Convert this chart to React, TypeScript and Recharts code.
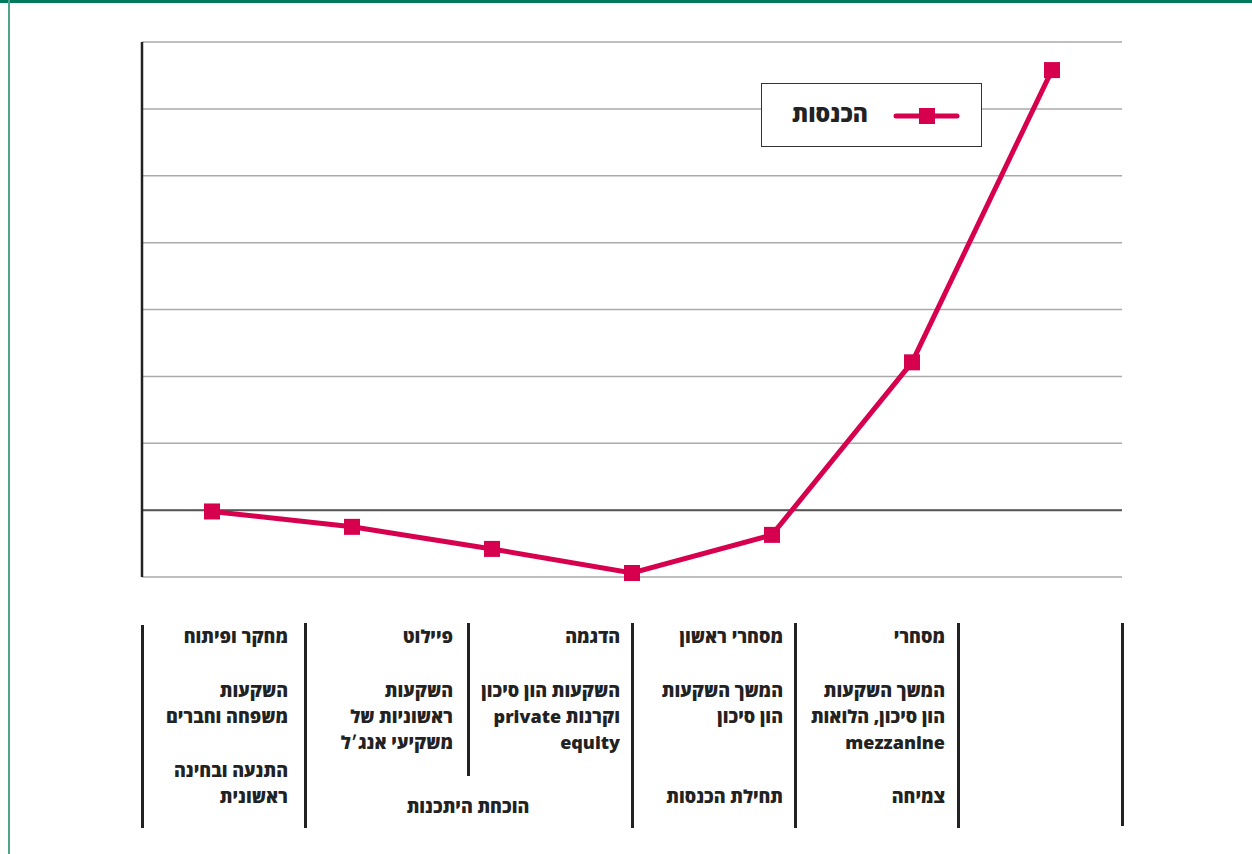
import React from "react";
import { LineChart, Line, XAxis, YAxis, CartesianGrid, ReferenceLine } from "recharts";

// שלבי חיי המיזם
const stages = ["s1", "s2", "s3", "s4", "s5", "s6", "s7"];
const revenues = [-0.02, -0.25, -0.58, -0.94, -0.37, 2.21, 6.58];
const yTicks = [-1, 0, 1, 2, 3, 4, 5, 6, 7];

const stageTitles = ["מחקר ופיתוח", "פיילוט", "הדגמה", "מסחרי ראשון", "מסחרי"];
const investments = [
    ["השקעות", "משפחה וחברים"],
    ["השקעות", "ראשוניות של", "משקיעי אנג׳ל"],
    ["השקעות הון סיכון", "וקרנות private", "equity"],
    ["המשך השקעות", "הון סיכון"],
    ["המשך השקעות", "הון סיכון, הלואות", "mezzanine"],
];
const phases = [["התנעה ובחינה", "ראשונית"], [], [], ["תחילת הכנסות"], ["צמיחה"]];
const sharedPhase = "הוכחת היתכנות";
const seriesName = "הכנסות";

const data = stages.map((s, i) => ({ stage: s, value: revenues[i] }));

const RED = "#d6004f";
const FONT = "'Open Sans', 'Liberation Sans', Arial, sans-serif";

function SquareDot(props: any) {
    const { cx, cy, index } = props;
    return <rect key={`dot-${index}`} x={cx - 8} y={cy - 8} width={16} height={16} fill={RED} />;
}

function LegendBox() {
    return (
        <div style={{
            position: "absolute", left: 761, top: 83, width: 221, height: 64, border: "1.5px solid #333",
            background: "#fff", boxSizing: "border-box", fontFamily: FONT,
        }}>
            <svg width={70} height={20} style={{ position: "absolute", left: 130, top: 22 }}>
                <line x1={4} y1={10} x2={65} y2={10} stroke={RED} strokeWidth={5} strokeLinecap="round" />
                <rect x={27} y={2} width={16} height={16} fill={RED} />
            </svg>
            <span style={{
                position: "absolute", right: 113, top: 13, fontWeight: 800, fontSize: 23, color: "#222",
                direction: "rtl", whiteSpace: "nowrap", lineHeight: "32px",
            }}>{seriesName}</span>
        </div>
    );
}

// קווי הפרדה בטבלה
const dividers = [
    { x: 142, top: 625, bottom: 828 },
    { x: 305, top: 623, bottom: 828 },
    { x: 468, top: 623, bottom: 776 },
    { x: 632, top: 623, bottom: 828 },
    { x: 795, top: 623, bottom: 828 },
    { x: 958, top: 623, bottom: 828 },
    { x: 1122, top: 623, bottom: 826 },
];
const textRight = [288, 453, 620, 783, 945];

const textStyle: React.CSSProperties = {
    position: "absolute", direction: "rtl", textAlign: "right", fontFamily: FONT,
    fontWeight: 800, fontSize: 18, lineHeight: "26px", color: "#222", whiteSpace: "nowrap",
};

function Lines({ lines, right, top }: { lines: string[]; right: number; top: number }) {
    if (!lines.length) return null;
    return (
        <div style={{ ...textStyle, right: 1252 - right, top }}>
            {lines.map((l, i) => <div key={i}>{l}</div>)}
        </div>
    );
}

export default function App() {
    return (
        <div style={{ position: "absolute", left: 0, top: 0, width: 1252, height: 854, background: "#fff", overflow: "hidden" }}>
            <div style={{ position: "absolute", left: 0, top: 0, width: 1252, height: 3, background: "#007a5c" }} />
            <div style={{ position: "absolute", left: 8, top: 0, width: 1.5, height: 854, background: "#4fa48a" }} />
            <div style={{ position: "absolute", left: 0, top: 0 }}>
                <LineChart width={1252} height={600} data={data} margin={{ top: 42, left: 141, right: 130, bottom: 23 }}>
                    <CartesianGrid vertical={false} stroke="#aaa" strokeWidth={1.5} />
                    <XAxis dataKey="stage" scale="band" hide />
                    <YAxis domain={[-1, 7]} ticks={yTicks} width={1} tickFormatter={() => ""} tickLine={false}
                        axisLine={{ stroke: "#222", strokeWidth: 2.5 }} />
                    <ReferenceLine y={0} stroke="#555" strokeWidth={2} />
                    <Line dataKey="value" name={seriesName} stroke={RED} strokeWidth={5}
                        dot={SquareDot} activeDot={false} isAnimationActive={false} />
                </LineChart>
            </div>
            <LegendBox />
            {dividers.map((d, i) => (
                <div key={i} style={{ position: "absolute", left: d.x - 1, top: d.top, width: 2.5, height: d.bottom - d.top, background: "#222" }} />
            ))}
            {stageTitles.map((t, i) => <Lines key={"t" + i} lines={[t]} right={textRight[i]} top={623} />)}
            {investments.map((l, i) => <Lines key={"v" + i} lines={l} right={textRight[i]} top={677} />)}
            {phases.map((l, i) => <Lines key={"p" + i} lines={l} right={textRight[i]} top={l.length > 1 ? 757 : 783} />)}
            <div style={{ ...textStyle, left: 368, width: 200, textAlign: "center", top: 793 }}>{sharedPhase}</div>
        </div>
    );
}
